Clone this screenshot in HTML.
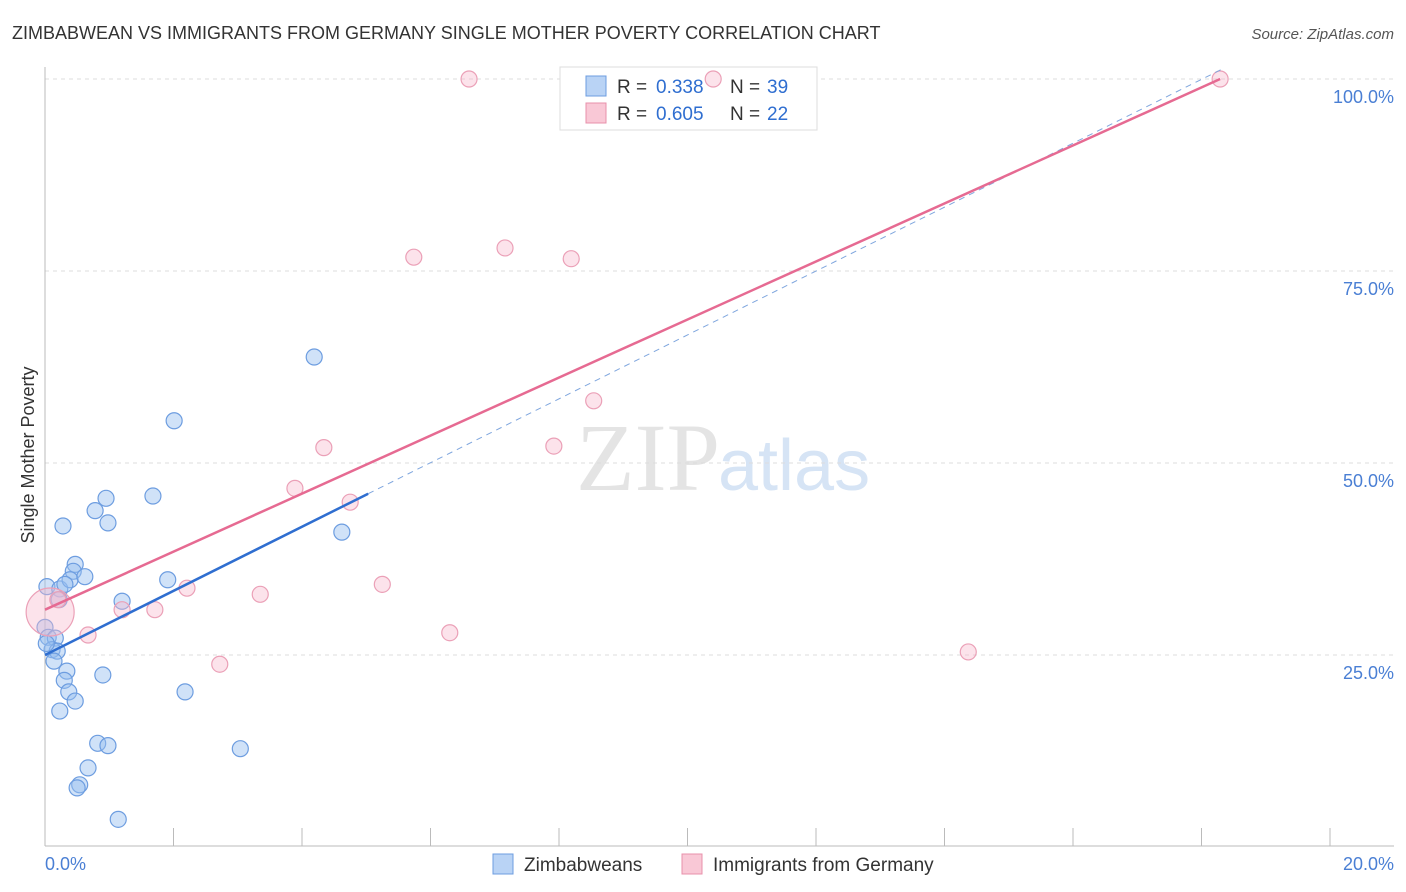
<!DOCTYPE html>
<html><head><meta charset="utf-8"><style>
body{margin:0;background:#fff;font-family:"Liberation Sans",sans-serif;}
svg{display:block}
</style></head><body>
<svg id="chart" width="1406" height="892">
<text x="12" y="39" font-size="18" fill="#333">ZIMBABWEAN VS IMMIGRANTS FROM GERMANY SINGLE MOTHER POVERTY CORRELATION CHART</text>
<text x="1394" y="39" font-size="15" fill="#555" font-style="italic" text-anchor="end">Source: ZipAtlas.com</text>
<text x="720" y="490" font-size="96" fill="#e4e4e4" text-anchor="end" font-family="Liberation Serif,serif">ZIP</text>
<text x="718" y="490" font-size="72" fill="#d6e4f5">atlas</text>
<g id="grid"></g><g id="axes"></g>
<g>
<rect x="560" y="67" width="257" height="63" fill="#fff" stroke="#ddd"/>
<rect x="586" y="76" width="20" height="20" fill="#b9d3f5" stroke="#6d9de0"/>
<text y="93" font-size="19" fill="#333"><tspan x="617">R =</tspan><tspan x="656" fill="#2f6ed0">0.338</tspan><tspan x="730">N =</tspan><tspan x="767" fill="#2f6ed0">39</tspan></text>
<rect x="586" y="103" width="20" height="20" fill="#f9c8d6" stroke="#e890ab"/>
<text y="120" font-size="19" fill="#333"><tspan x="617">R =</tspan><tspan x="656" fill="#2f6ed0">0.605</tspan><tspan x="730">N =</tspan><tspan x="767" fill="#2f6ed0">22</tspan></text>
</g>
<g id="marks"></g><g id="lines"></g>
<text transform="translate(34,455) rotate(-90)" font-size="18" fill="#333" text-anchor="middle">Single Mother Poverty</text>
<text x="45" y="870" font-size="18" fill="#4a7fd4">0.0%</text>
<text x="1394" y="870" font-size="18" fill="#4a7fd4" text-anchor="end">20.0%</text>
<g>
<rect x="493" y="854" width="20" height="20" fill="#b9d3f5" stroke="#6d9de0"/>
<text x="524" y="871" font-size="19" fill="#333">Zimbabweans</text>
<rect x="682" y="854" width="20" height="20" fill="#f9c8d6" stroke="#e890ab"/>
<text x="713" y="871" font-size="19" fill="#333">Immigrants from Germany</text>
</g>
</svg>
<script>
const yTicks=[25,50,75,100];
const yTickLabels=["25.0%","50.0%","75.0%","100.0%"];
const xTicks=[0,2,4,6,8,10,12,14,16,18,20];
const blueX=[0.03,0.23,0,0.05,0.16,0.11,0.19,0.14,0.34,0.30,0.37,0.47,0.23,0.28,0.47,0.44,0.39,0.31,0.62,0.22,0.78,0.95,0.98,1.20,0.90,0.82,0.98,0.67,0.54,0.50,1.14,1.68,1.91,2.01,2.18,3.04,4.19,4.62,0.02];
const blueY=[33.9,33.6,28.6,27.3,27.2,25.7,25.5,24.2,22.9,21.7,20.2,19.0,17.7,41.8,36.8,35.9,34.8,34.2,35.2,32.2,43.8,45.4,42.2,32.0,22.4,13.5,13.2,10.3,8.1,7.7,3.6,45.7,34.8,55.5,20.2,12.8,63.8,41.0,26.5];
const pinkX=[6.60,10.40,18.29,5.74,7.16,8.19,8.54,7.92,4.34,3.89,4.75,5.25,3.35,2.21,1.71,1.20,0.67,2.72,6.30,14.37,0.08,0.2];
const pinkY=[100,100,100,76.8,78.0,76.6,58.1,52.2,52.0,46.7,44.9,34.2,32.9,33.7,30.9,30.9,27.6,23.8,27.9,25.4,30.6,32.2];
const pinkR=[8,8,8,8,8,8,8,8,8,8,8,8,8,8,8,8,8,8,8,8,24,8];
const blueTrend=[0,25.0,5.03,46.0,18.3,101.2];
const pinkTrend=[0,30.9,18.29,100];
const X=v=>45+v/20*1285, Y=v=>847-v/100*768;
const NS="http://www.w3.org/2000/svg";
function mk(p,t,a){const e=document.createElementNS(NS,t);for(const k in a)e.setAttribute(k,a[k]);document.getElementById(p).appendChild(e);return e;}
yTicks.forEach((t,i)=>{
 const l=mk('grid','line',{x1:45,x2:1394,y1:Y(t),y2:Y(t),stroke:'#ddd','stroke-dasharray':'4,4'});
 
 
 const tx=mk('grid','text',{x:1394,y:Y(t)+24,'font-size':18,fill:'#4a7fd4','text-anchor':'end'});
 tx.textContent=yTickLabels[i];
 
 
});
const ax=mk('axes','line',{x1:45,x2:45,y1:67,y2:846,stroke:'#bbb'});


const bx=mk('axes','line',{x1:45,x2:1394,y1:846,y2:846,stroke:'#bbb'});


xTicks.forEach(t=>{const l=mk('axes','line',{x1:X(t),x2:X(t),y1:828,y2:846,stroke:'#bbb'});
 
 });
blueX.forEach((v,i)=>{const c=mk('marks','circle',{cx:X(v),cy:Y(blueY[i]),r:8,fill:'rgba(150,190,240,0.45)',stroke:'#6d9de0','stroke-width':1.2});
 
 });
pinkX.forEach((v,i)=>{const c=mk('marks','circle',{cx:X(v),cy:Y(pinkY[i]),r:pinkR[i],fill:'rgba(248,185,205,0.4)',stroke:'#eba0b7','stroke-width':1.2});
 
 });
const b1=mk('lines','line',{x1:X(blueTrend[0]),y1:Y(blueTrend[1]),x2:X(blueTrend[2]),y2:Y(blueTrend[3]),stroke:'#2f6ed0','stroke-width':2.5});


const b2=mk('lines','line',{x1:X(blueTrend[2]),y1:Y(blueTrend[3]),x2:X(blueTrend[4]),y2:Y(blueTrend[5]),stroke:'#7fa6de','stroke-width':1,'stroke-dasharray':'6,5'});


const p1=mk('lines','line',{x1:X(pinkTrend[0]),y1:Y(pinkTrend[1]),x2:X(pinkTrend[2]),y2:Y(pinkTrend[3]),stroke:'#e66a92','stroke-width':2.5});


</script>
</body></html>
